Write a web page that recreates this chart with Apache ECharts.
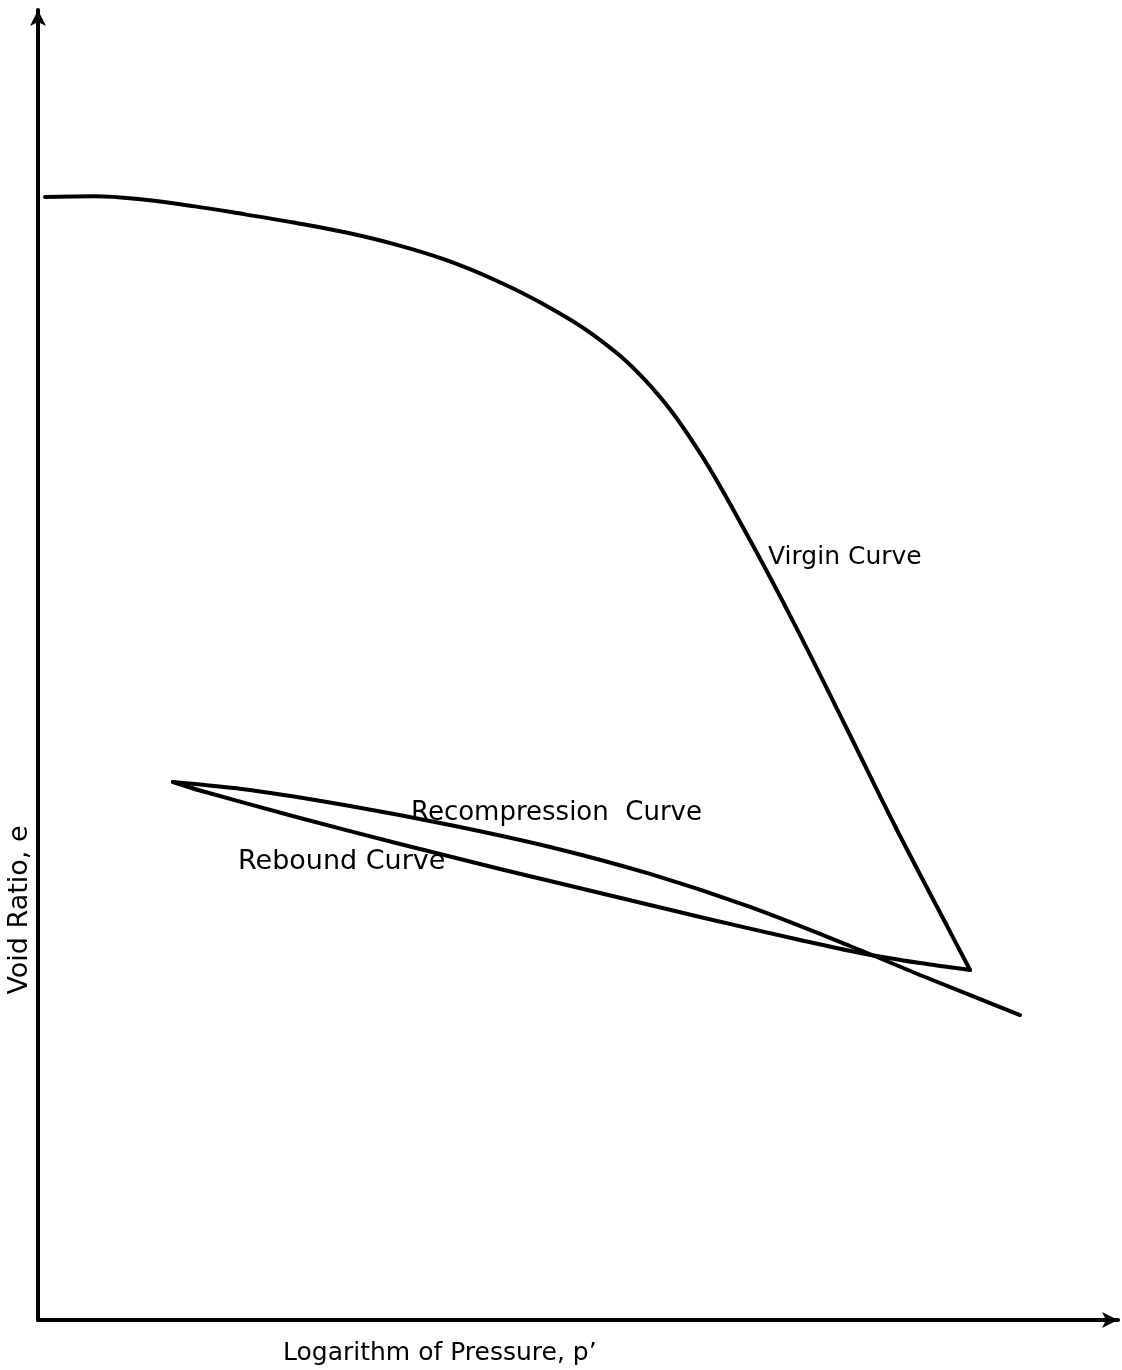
<!DOCTYPE html>
<html>
<head>
<meta charset="utf-8">
<script src="https://cdn.jsdelivr.net/npm/echarts@6/dist/echarts.min.js"></script>
<style>
  html, body { margin: 0; padding: 0; background: #fff; }
  #chart { width: 1122px; height: 1370px; }
</style>
</head>
<body>
<div id="chart"></div>
<script>
// Schematic e - log p' diagram (arbitrary units, 0-100 on both axes)

// Virgin compression curve: [log p', e]
const virginCurve = [
  [0.65, 85.73], [5.28, 85.78], [9.91, 85.51], [14.54, 85.01], [19.17, 84.4],
  [23.8, 83.76], [28.43, 83.03], [33.06, 82.11], [37.69, 80.94], [42.31, 79.39],
  [46.94, 77.48], [51.57, 75.11], [56.2, 71.76], [60.83, 66.79], [65.46, 60.23],
  [70.09, 53.05], [74.72, 45.42], [79.35, 37.71], [83.98, 30.38], [86.3, 26.72]
];

// Unloading (rebound) curve, from the end of the virgin curve back to low pressure
const reboundCurve = [
  [86.3, 26.72], [81.67, 27.25], [76.11, 28.02], [70.56, 29.01], [61.3, 30.76],
  [52.04, 32.6], [42.78, 34.43], [33.52, 36.34], [24.26, 38.32], [15.0, 40.42],
  [12.5, 41.07]
];

// Reloading (recompression) curve
const recompressionCurve = [
  [12.5, 41.07], [19.63, 40.46], [28.89, 39.24], [38.15, 37.79], [47.41, 36.11],
  [56.67, 34.05], [65.93, 31.53], [75.19, 28.55], [82.59, 26.03], [90.93, 23.28]
];

const xTitle = "Logarithm of Pressure, p\u2019";
const yTitle = "Void Ratio, e";
const curveNames = ["Virgin Curve", "Recompression  Curve", "Rebound Curve"];

const FONT = '"DejaVu Sans", sans-serif';
const INK = '#000';

const chart = echarts.init(document.getElementById('chart'), null, { renderer: 'canvas' });

const axisCommon = {
  type: 'value',
  min: 0,
  max: 100,
  axisLabel: { show: false },
  axisTick: { show: false },
  splitLine: { show: false },
  axisLine: {
    show: true,
    symbol: ['none', 'arrow'],
    symbolSize: [12, 16],
    lineStyle: { color: INK, width: 4 }
  }
};

const lineSeries = (name, data, smooth) => ({
  name,
  type: 'line',
  data,
  smooth,
  showSymbol: false,
  silent: true,
  animation: false,
  lineStyle: { color: INK, width: 4, cap: 'round', join: 'round' }
});

const label = (text, x, y, size) => ({
  type: 'text',
  x, y,
  silent: true,
  style: {
    text,
    fill: INK,
    font: size + 'px ' + FONT,
    textAlign: 'left',
    textVerticalAlign: 'middle'
  }
});

chart.setOption({
  backgroundColor: '#fff',
  animation: false,
  grid: { left: 38, right: 4, top: 10, bottom: 50, containLabel: false },
  xAxis: Object.assign({}, axisCommon),
  yAxis: Object.assign({}, axisCommon),
  series: [
    lineSeries(curveNames[0], virginCurve, 0.4),
    lineSeries(curveNames[2], reboundCurve, 0.3),
    lineSeries(curveNames[1], recompressionCurve, 0.3)
  ],
  graphic: [
    label(curveNames[0], 768, 557, 25),
    label(curveNames[1], 411, 813, 26),
    label(curveNames[2], 238, 862, 27),
    label(xTitle, 283, 1353, 25),
    {
      type: 'text',
      x: 20, y: 910,
      rotation: Math.PI / 2,
      silent: true,
      style: {
        text: yTitle,
        fill: INK,
        font: '27px ' + FONT,
        textAlign: 'center',
        textVerticalAlign: 'middle'
      }
    }
  ]
});
</script>
</body>
</html>
